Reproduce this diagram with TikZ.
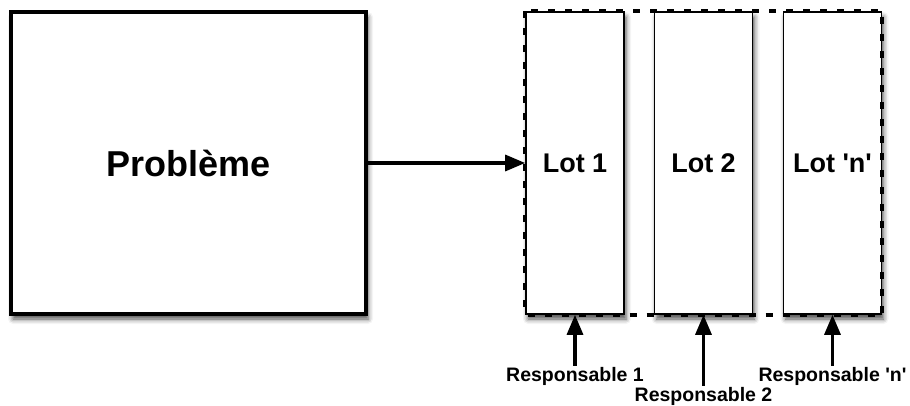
\documentclass[tikz,border=0pt]{standalone}
\usepackage{fontspec}
\setmainfont{Liberation Sans}[Ligatures=TeXOff]
\usetikzlibrary{arrows.meta,shadows.blur}
\begin{document}
\begin{tikzpicture}[x=1pt,y=-1pt,
    boite/.style={draw,fill=white,inner sep=0pt,
        blur shadow={shadow xshift=2pt,shadow yshift=-5pt,shadow blur radius=5pt,shadow opacity=70}},
    probleme/.style={boite,line width=3.6pt,minimum width=355pt,minimum height=302pt,font=\bfseries\fontsize{36}{40}\selectfont},
    lot/.style={boite,line width=1.6pt,minimum width=98pt,minimum height=302pt,font=\bfseries\fontsize{27}{30}\selectfont},
    resp/.style={inner sep=1pt,font=\bfseries\fontsize{19.5}{22}\selectfont},
    fleche/.style={line width=3.2pt,-{Triangle[length=20pt,width=16pt]}},
    cadre/.style={line width=4pt,dash pattern=on 7pt off 10pt}]
    \useasboundingbox (0,0) rectangle (910,405);
    \node[probleme] (pb) at (188.5,163) {Problème};
    \node[lot] (lot1) at (575,163) {Lot 1};
    \node[lot] (lot2) at (703.5,163) {Lot 2};
    \node[lot] (lot3) at (832.5,163) {Lot 'n'};
    \draw[cadre] (lot1.north west) rectangle (lot3.south east);
    \draw[fleche] (pb) -- (lot1);
    \node[resp] (r1) at (575,376) {Responsable 1};
    \node[resp] (r2) at (703.5,396) {Responsable 2};
    \node[resp] (r3) at (832.5,376) {Responsable 'n'};
    \draw[fleche] (r1) -- (lot1);
    \draw[fleche] (r2) -- (lot2);
    \draw[fleche] (r3) -- (lot3);
\end{tikzpicture}
\end{document}
